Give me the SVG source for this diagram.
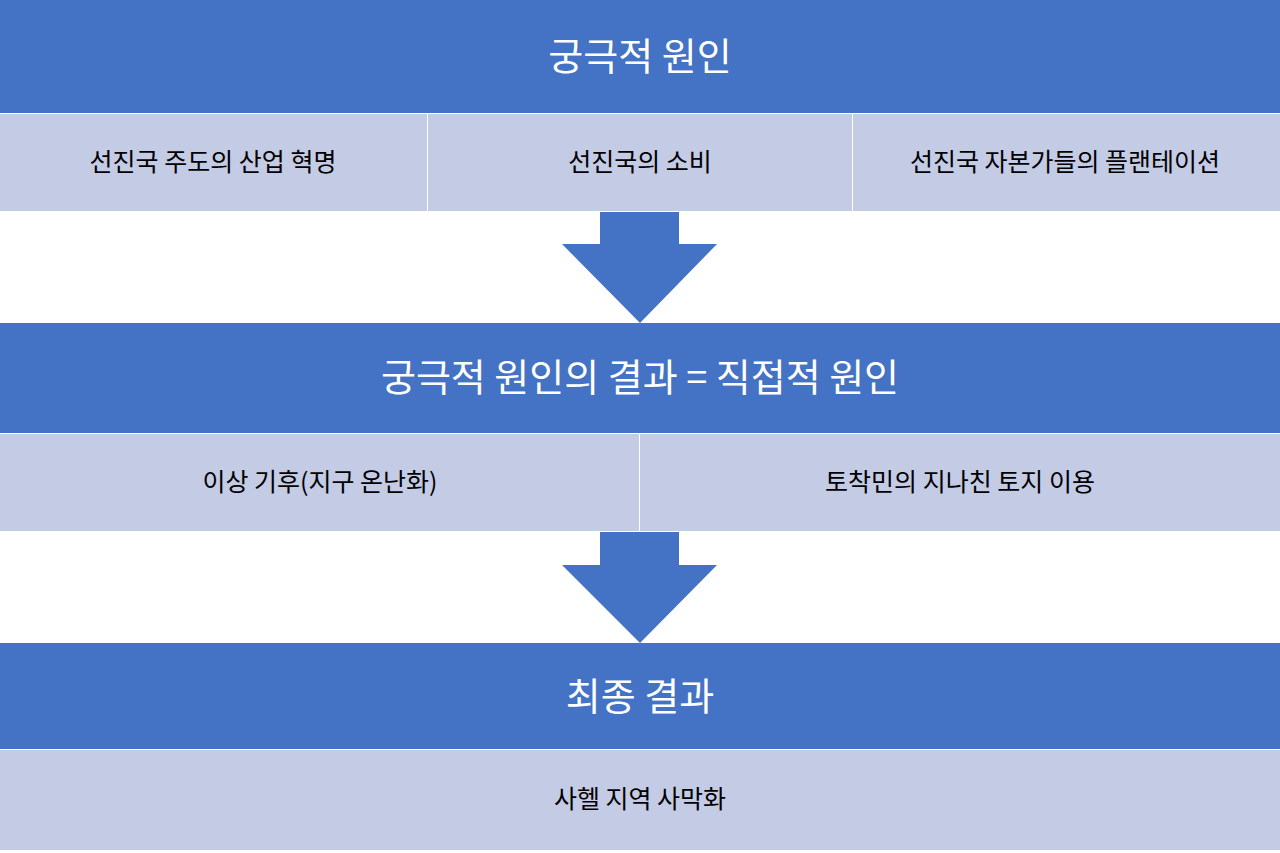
<svg xmlns="http://www.w3.org/2000/svg" width="1280" height="853" viewBox="0 0 1280 853">
<style>
.h{fill:#4472C4}
.c{fill:#C3CBE5}
.ht{font-family:"Noto Sans CJK KR",sans-serif;font-size:38px;fill:#fff;text-anchor:middle}
.ct{font-family:"Noto Sans CJK KR",sans-serif;font-size:25px;fill:#000;text-anchor:middle}
.s{stroke:#DDE2F0;stroke-width:2}
</style>
<rect width="1280" height="853" fill="#fff"/>
<g id="n1"><rect class="h" x="0" y="0" width="1280" height="113"/><text class="ht" x="640" y="70">궁극적 원인</text></g>
<g id="n1a"><rect class="c" x="0" y="114" width="427" height="97"/><text class="ct" x="213" y="171">선진국 주도의 산업 혁명</text></g>
<g id="n1b"><rect class="c" x="428" y="114" width="424" height="97"/><text class="ct" x="640" y="171">선진국의 소비</text></g>
<g id="n1c"><rect class="c" x="853" y="114" width="427" height="97"/><text class="ct" x="1065" y="171">선진국 자본가들의 플랜테이션</text></g>
<g id="n2"><rect class="h" x="0" y="323" width="1280" height="110"/><text class="ht" x="640" y="391">궁극적 원인의 결과 = 직접적 원인</text></g>
<g id="n2a"><rect class="c" x="0" y="434" width="639" height="97"/><text class="ct" x="320" y="491">이상 기후(지구 온난화)</text></g>
<g id="n2b"><rect class="c" x="640" y="434" width="640" height="97"/><text class="ct" x="960" y="491">토착민의 지나친 토지 이용</text></g>
<g id="n3"><rect class="h" x="0" y="643" width="1280" height="106"/><text class="ht" x="640" y="710">최종 결과</text></g>
<g id="n3a"><rect class="c" x="0" y="750" width="1280" height="100"/><text class="ct" x="640" y="808">사헬 지역 사막화</text></g>
<g id="connectors">
<polygon class="h" points="600,212 679,212 679,244 717,244 640,323 562,244 600,244"/>
<polygon class="h" points="600,532 679,532 679,565 717,565 640,643 562,565 600,565"/>
</g>
</svg>
